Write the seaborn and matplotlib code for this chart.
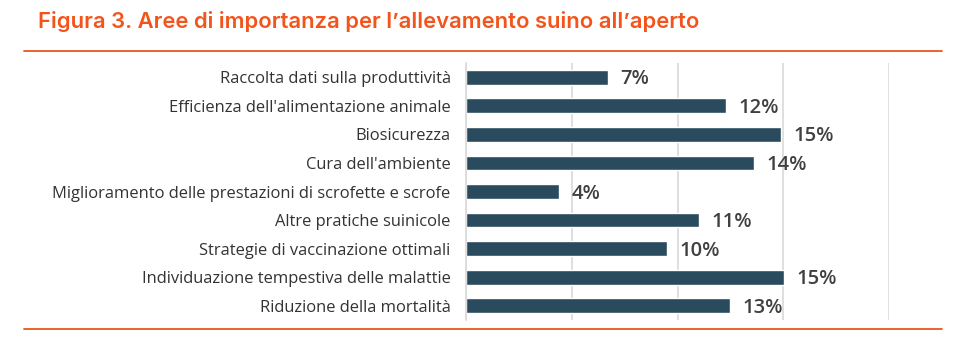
import matplotlib
matplotlib.use("Agg")
import matplotlib.pyplot as plt
import seaborn as sns
import pandas as pd
from matplotlib.lines import Line2D

categories = [
    "Raccolta dati sulla produttività",
    "Efficienza dell'alimentazione animale",
    "Biosicurezza",
    "Cura dell'ambiente",
    "Miglioramento delle prestazioni di scrofette e scrofe",
    "Altre pratiche suinicole",
    "Strategie di vaccinazione ottimali",
    "Individuazione tempestiva delle malattie",
    "Riduzione della mortalità",
]
values = [6.7, 12.3, 14.9, 13.6, 4.4, 11.0, 9.5, 15.05, 12.5]
value_labels = ["7%", "12%", "15%", "14%", "4%", "11%", "10%", "15%", "13%"]
title = "Figura 3. Aree di importanza per l\u2019allevamento suino all\u2019aperto"

df = pd.DataFrame({"categoria": categories, "valore": values})

sns.set_theme(style="white")
plt.rcParams["font.family"] = ["Open Sans", "DejaVu Sans"]

fig = plt.figure(figsize=(9.68, 3.44), dpi=100)
ax = fig.add_axes([466 / 968, 1 - 320 / 344, (889 - 466) / 968, (320 - 63) / 344])

sns.barplot(data=df, x="valore", y="categoria", color="#2A4B5E", width=0.52,
            saturation=1, ax=ax, orient="h")

ax.set_xlim(0, 20)
ax.set_ylim(8.5, -0.5)
ax.set_xticks([0, 5, 10, 15, 20])
ax.xaxis.grid(True, color="#D9D9D9", linewidth=1.2)
ax.yaxis.grid(False)
ax.set_axisbelow(True)
ax.tick_params(axis="x", labelbottom=False, length=0)
ax.tick_params(axis="y", length=0, pad=11, labelsize=11.9, labelcolor="#333333")
for t in ax.get_yticklabels():
    t.set_fontweight("normal")
ax.set_xlabel("")
ax.set_ylabel("")
for s in ["top", "right", "bottom"]:
    ax.spines[s].set_visible(False)
ax.spines["left"].set_color("#D9D9D9")
ax.spines["left"].set_linewidth(1.2)

for i, (v, lab) in enumerate(zip(values, value_labels)):
    ax.annotate(lab, xy=(v, i), xytext=(9, -1.5), textcoords="offset points",
                va="center", ha="left", fontsize=14.5, fontweight="semibold",
                color="#404040")

fig.text(38 / 968, 1 - 21 / 344, title, fontsize=15.85, fontweight="semibold",
         color="#F2541B", va="center", ha="left", family=["Inter", "DejaVu Sans"])

orange = "#E8561F"
for y in (51, 329):
    fig.add_artist(Line2D([24 / 968, 942 / 968], [1 - y / 344, 1 - y / 344],
                          color=orange, linewidth=1.3, transform=fig.transFigure))

fig.savefig("out.png", dpi=100)
